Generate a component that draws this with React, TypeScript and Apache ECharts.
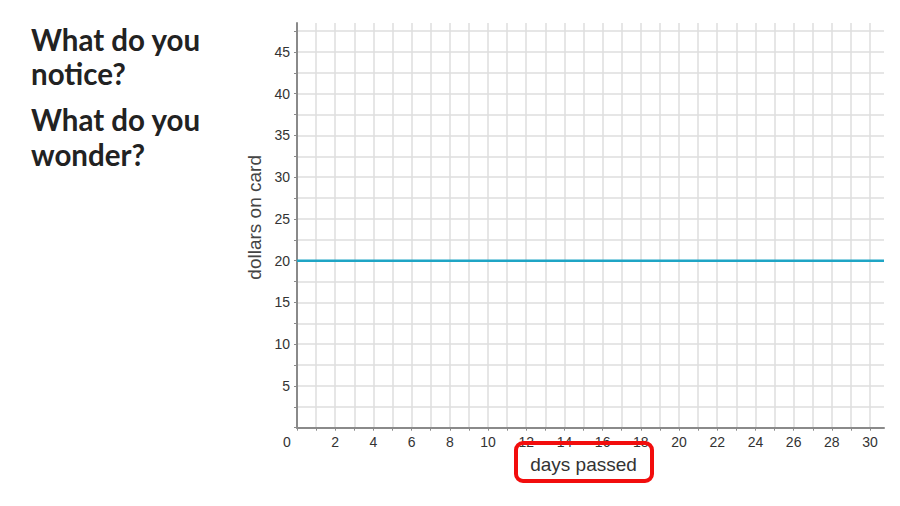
import React, { useEffect, useRef } from "react";
import * as echarts from "echarts";

const days = [0, 30.73];
const dollars = [20, 20];
const xTickLabels = [0, 2, 4, 6, 8, 10, 12, 14, 16, 18, 20, 22, 24, 26, 28, 30];
const yTickLabels = [5, 10, 15, 20, 25, 30, 35, 40, 45];
const promptLines = ["What do you", "notice?", "What do you", "wonder?"];
const xTitle = "days passed";
const yTitle = "dollars on card";

export default function App() {
  const ref = useRef<HTMLDivElement>(null);
  useEffect(() => {
    if (!ref.current) return;
    const chart = echarts.init(ref.current, undefined, { renderer: "svg" });
    const promptY = [42, 76, 122, 157];
    chart.setOption({
      animation: false,
      backgroundColor: "#ffffff",
      grid: { left: 297, top: 23, right: 16, bottom: 78.3, containLabel: false },
      xAxis: {
        type: "value",
        min: 0,
        max: 30.73,
        interval: 1,
        name: xTitle,
        nameLocation: "middle",
        nameGap: 27,
        nameTextStyle: { fontFamily: "Liberation Sans", fontSize: 19, color: "#333", padding: [0, 14, 0, 0] },
        axisLine: { lineStyle: { color: "#8a8a8a", width: 2 } },
        axisTick: { show: true, length: 3, lineStyle: { color: "#8a8a8a" } },
        axisLabel: {
          margin: 7,
          fontFamily: "Liberation Sans",
          fontSize: 14,
          color: "#333",
          showMaxLabel: false,
          formatter: (v: number) => {
            if (!xTickLabels.includes(v)) return "";
            return v === 0 ? "{z|0}" : String(v);
          },
          rich: { z: { fontFamily: "Liberation Sans", fontSize: 14, color: "#333", padding: [0, 20, 0, 0] } },
        },
        splitLine: { show: true, showMaxLine: false, lineStyle: { color: "#dedede", width: 1.5 } },
      },
      yAxis: {
        type: "value",
        min: 0,
        max: 48.47,
        interval: 2.5,
        name: yTitle,
        nameLocation: "middle",
        nameGap: 28,
        nameRotate: 90,
        nameTextStyle: { fontFamily: "Liberation Sans", fontSize: 19, color: "#444", padding: [0, 0, 0, 16] },
        axisLine: { show: true, lineStyle: { color: "#8a8a8a", width: 2 } },
        axisTick: { show: true, length: 3, lineStyle: { color: "#8a8a8a" } },
        axisLabel: {
          margin: 7,
          fontFamily: "Liberation Sans",
          fontSize: 14,
          color: "#333",
          showMaxLabel: false,
          formatter: (v: number) => (yTickLabels.includes(v) ? String(v) : ""),
        },
        splitLine: { show: true, showMaxLine: false, showMinLine: false, lineStyle: { color: "#dedede", width: 1.5 } },
      },
      series: [
        {
          type: "line",
          data: days.map((d, i) => [d, dollars[i]]),
          showSymbol: false,
          lineStyle: { color: "#1fa5c5", width: 2.5 },
          z: 5,
        },
      ],
      graphic: [
        ...promptLines.map((t, i) => ({
          type: "text",
          left: 31,
          top: promptY[i] - 18,
          style: { text: t, fontFamily: "Lato", fontWeight: "bold", fontSize: 29.5, fill: "#222" },
        })),
        {
          type: "rect",
          shape: { x: 516, y: 443, width: 136, height: 38, r: 7 },
          style: { fill: "none", stroke: "#f20d0d", lineWidth: 4 },
          z: 10,
        },
      ],
    });
    return () => chart.dispose();
  }, []);
  return <div ref={ref} style={{ width: 900, height: 506, position: "absolute", left: 0, top: 0 }} />;
}
